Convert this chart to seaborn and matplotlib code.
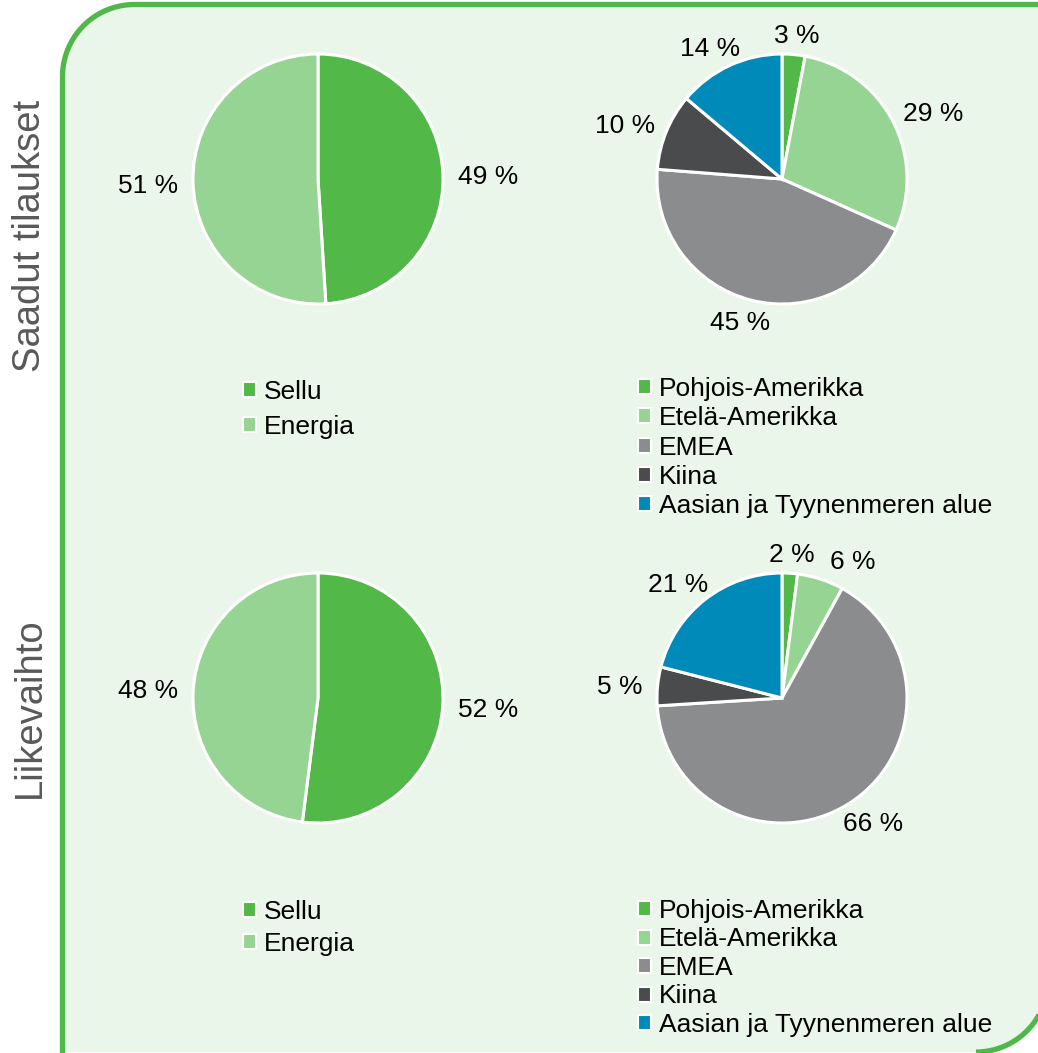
import matplotlib.pyplot as plt
import matplotlib.patches as mpatches
import numpy as np
import seaborn as sns

sns.set_theme(style="white")
plt.rcParams['font.family'] = ['Liberation Sans', 'DejaVu Sans']

# Data
segments = ['Sellu', 'Energia']
regions = ['Pohjois-Amerikka', 'Etelä-Amerikka', 'EMEA', 'Kiina', 'Aasian ja Tyynenmeren alue']
orders_segment = [49, 51]
orders_region = [3, 29, 45, 10, 14]
sales_segment = [52, 48]
sales_region = [2, 6, 66, 5, 21]
row_titles = ['Saadut tilaukset', 'Liikevaihto']

segment_colors = ['#52B848', '#96D494']
region_colors = ['#52B848', '#96D494', '#8B8C8E', '#4A4B4D', '#008ABA']
border_green = '#50B848'
panel_fill = '#EBF6EA'

W, H = 1038, 1053
fig = plt.figure(figsize=(W / 100, H / 100), dpi=100)
fig.patch.set_facecolor('white')

# Background panel with rounded corners (pixel coordinates, y down)
bg = fig.add_axes([0, 0, 1, 1])
bg.set_xlim(0, W)
bg.set_ylim(H, 0)
bg.axis('off')


def arc(cx, cy, r, a0, a1):
    t = np.radians(np.linspace(a0, a1, 40))
    return np.column_stack([cx + r * np.cos(t), cy + r * np.sin(t)])


left, top, right, bottom, r = 62.5, 4.5, 1048, 1052, 72
pts = np.vstack([
    [[left, H + 20]],
    arc(left + r, top + r, r, 180, 270),
    [[right, top]],
    arc(right - r, bottom - r, r, 0, 90),
    [[left, bottom], [left, H + 20]],
])
bg.add_patch(mpatches.Polygon(pts, closed=True, facecolor=panel_fill, edgecolor='none'))
bg.plot(pts[:-2, 0], pts[:-2, 1], color=border_green, lw=3.8, solid_capstyle='butt')

# Row titles
for title, y in zip(row_titles, [236, 708]):
    fig.text(30 / W, 1 - y / H, title, rotation=90, ha='center', va='center',
             fontsize=27.5, color='#595959')

renderer = fig.canvas.get_renderer()


def draw_pie(values, colors, cx, cy):
    R = 125
    ax = fig.add_axes([(cx - R) / W, 1 - (cy + R) / H, 2 * R / W, 2 * R / H])
    wedges, _ = ax.pie(values, colors=colors, startangle=90, counterclock=False, radius=1,
                       wedgeprops=dict(edgecolor='white', linewidth=2.2))
    ax.set_xlim(-1, 1)
    ax.set_ylim(-1, 1)
    ax.axis('off')

    # data labels placed just outside the rim, like "best fit" labels
    boxes = []
    for w, v in zip(wedges, values):
        ang = np.radians((w.theta1 + w.theta2) / 2)
        u = np.array([np.cos(ang), np.sin(ang)])
        t = ax.text(0, 0, f'{v} %', ha='center', va='center_baseline', fontsize=19, color='black')
        bb = t.get_window_extent(renderer)
        px = ax.transData.transform(1.12 * u) + np.array([bb.width / 2 * u[0], bb.height * 0.25 * u[1]])
        # nudge sideways if it collides with the previous label
        if boxes:
            pl, pr, pb, pt = boxes[-1]
            l, rr = px[0] - bb.width / 2, px[0] + bb.width / 2
            b, tt = px[1] - bb.height / 2, px[1] + bb.height / 2
            if l < pr and rr > pl and b < pt and tt > pb:
                shift = (pr - l + 15) if u[0] >= 0 else -(rr - pl + 15)
                px[0] += shift
        boxes.append((px[0] - bb.width / 2, px[0] + bb.width / 2,
                      px[1] - bb.height / 2, px[1] + bb.height / 2))
        t.set_position(ax.transData.inverted().transform(px))


def draw_legend(labels, colors, x, y, spacing):
    handles = [mpatches.Patch(facecolor=c, edgecolor='white', linewidth=1.5) for c in colors]
    fig.legend(handles, labels, loc='upper left', bbox_to_anchor=(x / W, 1 - y / H),
               frameon=False, fontsize=19, labelcolor='black', handlelength=0.5,
               handleheight=0.5, handletextpad=0.3, labelspacing=spacing,
               borderpad=0, borderaxespad=0)


draw_pie(orders_segment, segment_colors, 318, 179)
draw_pie(orders_region, region_colors, 782, 179)
draw_pie(sales_segment, segment_colors, 318, 698)
draw_pie(sales_region, region_colors, 782, 698)

draw_legend(segments, segment_colors, 243, 380, 0.4)
draw_legend(regions, region_colors, 638, 377, 0.2)
draw_legend(segments, segment_colors, 243, 900, 0.3)
draw_legend(regions, region_colors, 638, 899, 0.17)

fig.savefig('out.png', dpi=100, facecolor='white')
